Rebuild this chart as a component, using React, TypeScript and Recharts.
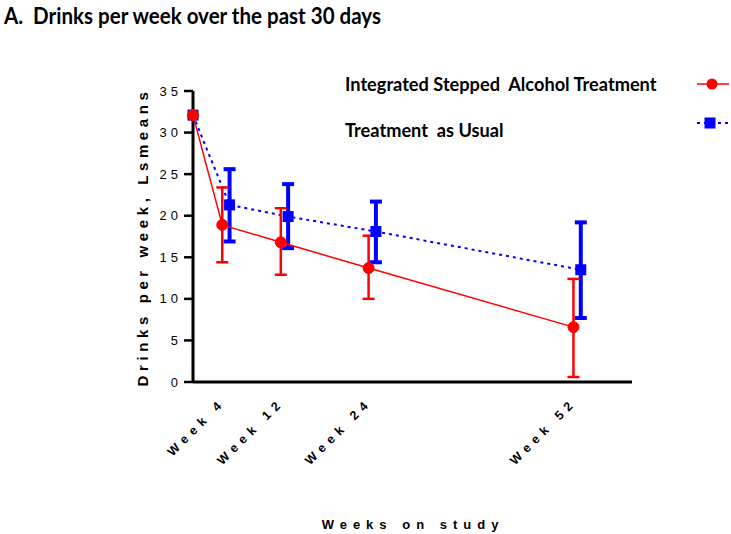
import React from 'react';
import { ComposedChart, Line, XAxis, YAxis, ErrorBar } from 'recharts';

// ---- data ----
const weeks = [0, 4, 12, 24, 52];
const tauWeeks = [0, 5, 13, 25, 53]; // TAU points are drawn one week to the right in the original
const isatMeans = [32.1, 18.9, 16.8, 13.7, 6.6];
const isatLow = [null, 14.4, 12.9, 10.0, 0.6];
const isatHigh = [null, 23.4, 20.9, 17.6, 12.4];
const tauMeans = [32.1, 21.3, 19.9, 18.1, 13.5];
const tauLow = [null, 16.9, 16.1, 14.4, 7.7];
const tauHigh = [null, 25.6, 23.8, 21.7, 19.2];
const xTicks = [4, 12, 24, 52];
const yTicks = [0, 5, 10, 15, 20, 25, 30, 35];
const seriesNames = ['Integrated Stepped  Alcohol Treatment', 'Treatment  as Usual'];
const titleText = 'A.  Drinks per week over the past 30 days';
const xTitle = 'Weeks on study';
const yTitle = 'Drinks per week, Lsmeans';

const build = (xs: number[], means: number[], lows: (number | null)[], highs: (number | null)[]) =>
  xs.map((w, i) => ({
    week: w,
    value: means[i],
    err: lows[i] == null ? null : [means[i] - (lows[i] as number), (highs[i] as number) - means[i]],
  }));

const isatData = build(weeks, isatMeans, isatLow, isatHigh);
const tauData = build(tauWeeks, tauMeans, tauLow, tauHigh);

const RED = '#ff0000';
const BLUE = '#0000ff';
const ARIAL = '"Liberation Sans", Arial, sans-serif';
const CAL = 'Lato, "Open Sans", sans-serif';

const YTick = (props: any) => {
  const { x, y, payload } = props;
  return (
    <text x={x} y={y} dy={4.5} textAnchor="end" fontFamily={ARIAL} fontSize={13} fill="#000" style={{ letterSpacing: 4 }}>
      {String(payload.value)}
    </text>
  );
};

const XTick = (props: any) => {
  const { x, y, payload } = props;
  const ty = y + 17;
  return (
    <text
      x={x}
      y={ty}
      dx={5.5}
      transform={`rotate(-45 ${x} ${ty})`}
      textAnchor="end"
      fontFamily={ARIAL}
      fontWeight="bold"
      fontSize={12.5}
      fill="#000"
      style={{ letterSpacing: 5.5 }}
    >
      {`Week ${payload.value}`}
    </text>
  );
};

const CircleDot = (props: any) => {
  const { cx, cy, index } = props;
  if (cx == null || cy == null) return <g key={`c${index}`} />;
  return <circle key={`c${index}`} cx={cx} cy={cy} r={5.5} fill={RED} stroke={RED} strokeWidth={1} />;
};

const SquareDot = (props: any) => {
  const { cx, cy, index } = props;
  if (cx == null || cy == null) return <g key={`s${index}`} />;
  return <rect key={`s${index}`} x={cx - 5.5} y={cy - 5.5} width={11} height={11} fill={BLUE} />;
};

export default function App() {
  return (
    <div style={{ position: 'absolute', left: 0, top: 0, width: 731, height: 534, background: '#fff', overflow: 'hidden' }}>
      <ComposedChart width={731} height={534} margin={{ top: 91, right: 99, bottom: 0, left: 0 }}>
        <XAxis
          type="number"
          dataKey="week"
          domain={[0, 60]}
          ticks={xTicks}
          tick={<XTick />}
          tickLine={false}
          axisLine={{ stroke: '#000', strokeWidth: 3 }}
          height={152}
          allowDuplicatedCategory={false}
        />
        <YAxis
          type="number"
          domain={[0, 35]}
          ticks={yTicks}
          tick={<YTick />}
          tickSize={9}
          tickLine={{ stroke: '#000', strokeWidth: 2.5 }}
          axisLine={{ stroke: '#000', strokeWidth: 3 }}
          width={193}
        />
        <Line
          data={tauData}
          dataKey="value"
          stroke={BLUE}
          strokeWidth={2}
          strokeDasharray="3 4"
          dot={SquareDot}
          activeDot={false}
          isAnimationActive={false}
        >
          <ErrorBar dataKey="err" direction="y" width={6} strokeWidth={4} stroke={BLUE} />
        </Line>
        <Line
          data={isatData}
          dataKey="value"
          stroke={RED}
          strokeWidth={1.5}
          dot={CircleDot}
          activeDot={false}
          isAnimationActive={false}
        >
          <ErrorBar dataKey="err" direction="y" width={6} strokeWidth={2.5} stroke={RED} />
        </Line>
      </ComposedChart>
      <svg width={731} height={534} style={{ position: 'absolute', left: 0, top: 0, pointerEvents: 'none' }}>
        <text
          x={4}
          y={24}
          fontFamily={CAL}
          fontWeight="bold"
          fontSize={22}
          fill="#000"
          textLength={377}
          lengthAdjust="spacingAndGlyphs"
          style={{ whiteSpace: 'pre' }}
        >
          {titleText}
        </text>
        <text
          x={148}
          y={237}
          transform="rotate(-90 148 237)"
          textAnchor="middle"
          fontFamily={ARIAL}
          fontWeight="bold"
          fontSize={15}
          fill="#000"
          style={{ letterSpacing: 4.6 }}
        >
          {yTitle}
        </text>
        <text x={413} y={529} textAnchor="middle" fontFamily={ARIAL} fontWeight="bold" fontSize={13} fill="#000" style={{ letterSpacing: 6 }}>
          {xTitle}
        </text>
        <text x={345} y={91} fontFamily={CAL} fontWeight="bold" fontSize={18.2} fill="#000" style={{ whiteSpace: 'pre' }}>
          {seriesNames[0]}
        </text>
        <text x={345} y={137} fontFamily={CAL} fontWeight="bold" fontSize={18.2} fill="#000" style={{ whiteSpace: 'pre' }}>
          {seriesNames[1]}
        </text>
        <line x1={697} y1={84} x2={729} y2={84} stroke={RED} strokeWidth={1.5} />
        <circle cx={712} cy={84} r={5.5} fill={RED} />
        <line x1={697} y1={123} x2={729} y2={123} stroke={BLUE} strokeWidth={2} strokeDasharray="3 4" />
        <rect x={704.5} y={117.5} width={11} height={11} fill={BLUE} />
      </svg>
    </div>
  );
}
